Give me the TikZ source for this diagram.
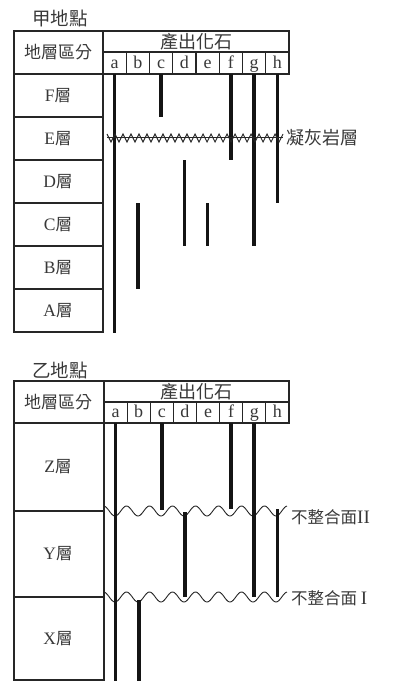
\documentclass[tikz,border=0pt]{standalone}
\usepackage{fontspec}
\setmainfont{Liberation Serif}
\newfontfamily\cjk{Noto Sans CJK TC}
\tikzset{
  grid/.style={line width=1.1pt, draw=black!85},
  fossil/.style={line width=3.7pt, draw=black!92},
  thinline/.style={line width=0.9pt, draw=black!85},
  txt/.style={text=black!78, inner sep=0pt},
  title/.style={txt, font=\cjk\fontsize{18.5}{18.5}\selectfont},
  head/.style={txt, font=\cjk\fontsize{17}{17}\selectfont},
  lett/.style={txt, font=\fontsize{18}{18}\selectfont, anchor=base},
  layer/.style={txt, font=\fontsize{17.5}{17.5}\selectfont},
  side/.style={txt, font=\cjk\fontsize{16.5}{16.5}\selectfont, anchor=west},
}
\begin{document}
\begin{tikzpicture}[x=1pt,y=-1pt]
\useasboundingbox (0,0) rectangle (401,682);
% ================= 甲地點 =================
\node[title] (titleA) at (60,18) {甲地點};
\draw[grid] (14,31) rectangle (289,74);
\draw[grid] (14,31) rectangle (103,332);
\draw[grid] (103,52) -- (289,52);
\foreach \i in {1,...,7} \draw[grid] ({103+23.25*\i},52) -- ({103+23.25*\i},74);
\foreach \y in {117,160,203,246,289} \draw[grid] (14,\y) -- (103,\y);
\node[head] (hA1) at (58,52) {地層區分};
\node[head,font=\cjk\fontsize{18}{18}\selectfont] (hA2) at (196,42) {產出化石};
\foreach \l [count=\i] in {a,b,c,d,e,f,g,h}
  \node[lett] (lA\l) at ({103+23.25*(\i-0.5)},68.5) {\l};
\foreach \n/\y in {F/95.5,E/138.5,D/181.5,C/224.5,B/267.5,A/310.5}
  \node[layer] (layA\n) at (58,\y) {\n{\cjk\fontsize{16.5}{16.5}\selectfont 層}};
% fossil ranges
\foreach \i/\a/\b in {1/74/333,2/203/289,3/74/117,4/160/246,5/203/246,6/74/160,7/74/246,8/74/203}
  \draw[fossil] ({103+23.25*(\i-0.5)},\a) -- ({103+23.25*(\i-0.5)},\b);
% tuff layer
\draw[thinline] (107,137.5) -- (283,137.5);
\draw[thinline,line join=miter] (107,134) \foreach \i in {0,...,21} { -- ({111+8*\i},142) -- ({115+8*\i},134) };
\node[side,font=\cjk\fontsize{18}{18}\selectfont] (tuff) at (286,138) {凝灰岩層};
% ================= 乙地點 =================
\node[title] (titleB) at (60,370) {乙地點};
\draw[grid] (14,381) rectangle (289,423);
\draw[grid] (14,381) rectangle (104,680);
\draw[grid] (104,402) -- (289,402);
\foreach \i in {1,...,7} \draw[grid] ({104+23.125*\i},402) -- ({104+23.125*\i},423);
\foreach \y in {511,597} \draw[grid] (14,\y) -- (104,\y);
\node[head] (hB1) at (58,402) {地層區分};
\node[head,font=\cjk\fontsize{18}{18}\selectfont] (hB2) at (196,391.5) {產出化石};
\foreach \l [count=\i] in {a,b,c,d,e,f,g,h}
  \node[lett] (lB\l) at ({104+23.125*(\i-0.5)},417.5) {\l};
\foreach \n/\y in {Z/467,Y/554,X/638.5}
  \node[layer] (layB\n) at (58,\y) {\n{\cjk\fontsize{16.5}{16.5}\selectfont 層}};
% unconformities
\draw[thinline] plot[domain=105:287, samples=160, smooth] (\x, {511+5*cos(15.6522*(\x-115))});
\draw[thinline] plot[domain=105:287, samples=160, smooth] (\x, {597+5*cos(15.6522*(\x-115))});
% fossil ranges
\foreach \i/\a/\b in {1/423/681,2/600/681,3/423/510,4/512/597,6/423/509,7/423/597,8/509/597}
  \draw[fossil] ({104+23.125*(\i-0.5)},\a) -- ({104+23.125*(\i-0.5)},\b);
\node[side] (unc2) at (291,517) {不整合面{\rmfamily\fontsize{19}{19}\selectfont II}};
\node[side] (unc1) at (291,598) {不整合面\ {\rmfamily\fontsize{19}{19}\selectfont I}};
\end{tikzpicture}
\end{document}
